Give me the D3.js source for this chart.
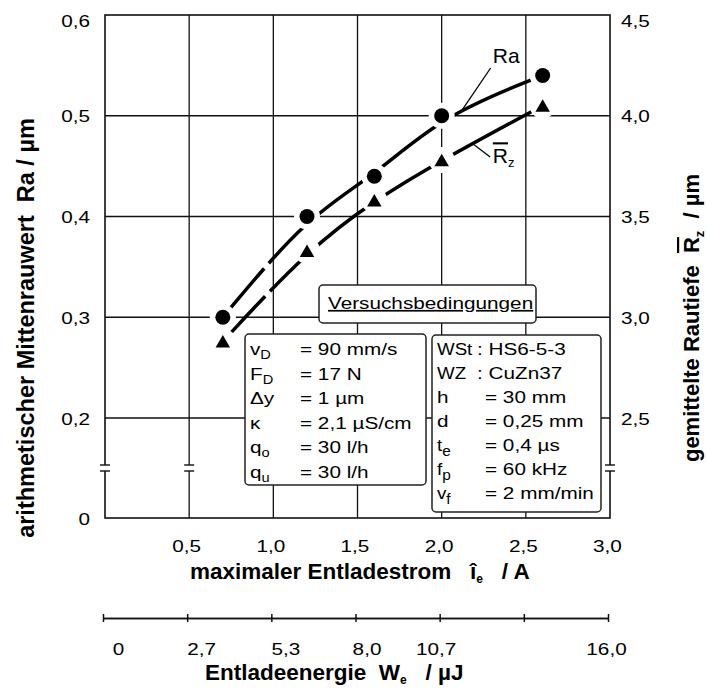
<!DOCTYPE html>
<html><head><meta charset="utf-8">
<script src="https://cdn.jsdelivr.net/npm/d3@7"></script>
<style>
body{margin:0;background:#fff}
svg text{font-family:"Liberation Sans",Arial,Helvetica,sans-serif;fill:#000}
</style></head><body>
<svg id="chart" width="707" height="689"></svg>
<script>
// ---------- data ----------
const current = [0.7, 1.2, 1.6, 2.0, 2.6];          // max. discharge current / A
const raValues = [0.30, 0.40, 0.44, 0.50, 0.54];    // Ra / µm
const rzValues = [2.88, 3.33, 3.58, 3.78, 4.05];    // Rz / µm
const xTicks = [0.5, 1.0, 1.5, 2.0, 2.5, 3.0];
const xTickLabels = ["0,5","1,0","1,5","2,0","2,5","3,0"];
const raTicks = [0, 0.2, 0.3, 0.4, 0.5, 0.6];
const raTickLabels = ["0","0,2","0,3","0,4","0,5","0,6"];
const rzTicks = [2.5, 3.0, 3.5, 4.0, 4.5];
const rzTickLabels = ["2,5","3,0","3,5","4,0","4,5"];
const energyTicks = [0, 16/6, 32/6, 8, 64/6, 80/6, 16];
const energyTickLabels = ["0","2,7","5,3","8,0","10,7","","16,0"];
const condLeftSym = [["v","D"],["F","D"],["\u0394y",""],["\u03ba",""],["q","o"],["q","u"]];
const condLeftVal = ["= 90 mm/s","= 17 N","= 1 \u00b5m","= 2,1 \u00b5S/cm","= 30 l/h","= 30 l/h"];
const condRightSym = [["WSt",""],["WZ",""],["h",""],["d",""],["t","e"],["f","p"],["v","f"]];
const condRightVal = [": HS6-5-3",": CuZn37","= 30 mm","= 0,25 mm","= 0,4 \u00b5s","= 60 kHz","= 2 mm/min"];

// ---------- layout ----------
const SX = 1.22; // horizontal stretch of the regular text
const svg = d3.select("#chart");
const x = d3.scaleLinear().domain([0, 3]).range([105, 610]);
const yRa = d3.scaleLinear().domain([0, 0.2, 0.6]).range([518, 418, 15]);
const yRz = d3.scaleLinear().domain([2.5, 4.5]).range([yRa(0.2), yRa(0.6)]);
const xE = d3.scaleLinear().domain([0, 16]).range([103, 608]);

function stext(parent, px, py, anchor, size, sx) {
  return parent.append("g").attr("transform", `translate(${px},${py}) scale(${sx || SX},1)`)
    .append("text").attr("text-anchor", anchor).attr("font-size", size || 17);
}

// grid
const grid = svg.append("g").attr("stroke", "#111").attr("stroke-width", 1.3);
grid.selectAll("line.v").data(xTicks.filter(d => d < 3)).join("line").attr("class","v")
  .attr("x1", d => x(d)).attr("x2", d => x(d)).attr("y1", yRa(0.6)).attr("y2", yRa(0));
grid.selectAll("line.h").data(raTicks.filter(d => d > 0 && d < 0.6)).join("line").attr("class","h")
  .attr("x1", x(0)).attr("x2", x(3)).attr("y1", d => yRa(d)).attr("y2", d => yRa(d));

// frame
svg.append("rect").attr("x", x(0)).attr("y", yRa(0.6)).attr("width", x(3) - x(0))
  .attr("height", yRa(0) - yRa(0.6)).attr("fill", "none").attr("stroke", "#111").attr("stroke-width", 1.6);

// axis breaks
const yb = yRa(0.1);
[x(0), x(0.5), x(3)].forEach(xb => {
  svg.append("rect").attr("x", xb - 3).attr("y", yb - 3).attr("width", 6).attr("height", 6).attr("fill", "#fff");
  [-3, 3].forEach(o => svg.append("line").attr("x1", xb - 5).attr("x2", xb + 5)
    .attr("y1", yb + o).attr("y2", yb + o).attr("stroke", "#111").attr("stroke-width", 1.4));
});

// left axis labels
const axL = svg.append("g").attr("transform", `translate(${x(0)},0)`)
  .call(d3.axisLeft(yRa).tickValues(raTicks).tickFormat((d, i) => raTickLabels[i]).tickSize(0).tickPadding(15));
axL.select(".domain").remove();
axL.selectAll("text").attr("font-size", 17).attr("font-family", null)
  .attr("transform", `scale(${SX},1)`).attr("x", -15 / SX)
  .attr("dy", d => d === 0.6 ? "0.70em" : "0.36em");

// right axis labels
const axR = svg.append("g").attr("transform", `translate(${x(3)},0)`)
  .call(d3.axisRight(yRz).tickValues(rzTicks).tickFormat((d, i) => rzTickLabels[i]).tickSize(0).tickPadding(11));
axR.select(".domain").remove();
axR.selectAll("text").attr("font-size", 17).attr("font-family", null)
  .attr("transform", `scale(${SX},1)`).attr("x", 11 / SX)
  .attr("dy", d => d === 4.5 ? "0.70em" : "0.36em");

// bottom axis labels
const axB = svg.append("g").attr("transform", `translate(0,${yRa(0)})`)
  .call(d3.axisBottom(x).tickValues(xTicks).tickFormat((d, i) => xTickLabels[i]).tickSize(0).tickPadding(22));
axB.select(".domain").remove();
axB.selectAll(".tick text").attr("font-size", 17).attr("font-family", null)
  .attr("transform", `scale(${SX},1)`).attr("dx", -3 / SX);

// energy axis
const yE = 618;
const axE1 = svg.append("g").attr("transform", `translate(0,${yE})`)
  .call(d3.axisTop(xE).tickValues(energyTicks).tickFormat("").tickSize(4).tickSizeOuter(0));
const energyDx = [15, 14, 14, 11, -4, 0, -2];
const axE2 = svg.append("g").attr("transform", `translate(0,${yE})`)
  .call(d3.axisBottom(xE).tickValues(energyTicks).tickFormat((d, i) => energyTickLabels[i]).tickSize(4).tickSizeOuter(0).tickPadding(21));
[axE1, axE2].forEach(a => { a.selectAll("path,line").attr("stroke", "#111").attr("stroke-width", 1.5); });
axE2.selectAll(".tick text").attr("font-size", 17).attr("font-family", null)
  .attr("transform", `scale(${SX},1)`).attr("dx", (d, i) => energyDx[i] / SX);

// axis titles
const tL = svg.append("text").attr("transform", "translate(34,328) rotate(-90)")
  .attr("text-anchor", "middle").attr("font-size", 23.5).attr("font-weight", "bold").style("white-space", "pre");
tL.text("arithmetischer Mittenrauwert  Ra / \u00b5m");

const tR = svg.append("text").attr("transform", "translate(699,318) rotate(-90)")
  .attr("text-anchor", "middle").attr("font-size", 22).attr("font-weight", "bold").style("white-space", "pre");
tR.append("tspan").text("gemittelte Rautiefe  ");
tR.append("tspan").text("R").style("text-decoration", "overline");
tR.append("tspan").text("z").attr("font-size", 13).attr("dy", 5);
tR.append("tspan").text("  / \u00b5m").attr("dy", -5);

const tB = svg.append("text").attr("x", 190).attr("y", 579)
  .attr("font-size", 22.5).attr("font-weight", "bold").style("white-space", "pre");
tB.append("tspan").text("maximaler Entladestrom   \u00ee");
tB.append("tspan").text("e").attr("font-size", 12).attr("dy", 4);
tB.append("tspan").text("   / A").attr("dy", -4);

const tE = svg.append("text").attr("x", 205).attr("y", 680)
  .attr("font-size", 22.5).attr("font-weight", "bold").style("white-space", "pre");
tE.append("tspan").text("Entladeenergie  W");
tE.append("tspan").text("e").attr("font-size", 12).attr("dy", 4);
tE.append("tspan").text("   / \u00b5J").attr("dy", -4);

// legend boxes
const box = (bx, by, bw, bh) => svg.append("rect").attr("x", bx).attr("y", by).attr("width", bw).attr("height", bh)
  .attr("rx", 4).attr("fill", "#fff").attr("stroke", "#222").attr("stroke-width", 1.5);
box(319, 285, 217, 38);
box(245, 334, 181, 151);
box(432, 335, 169, 177);
stext(svg, 328, 309, "start").text("Versuchsbedingungen").style("text-decoration", "underline");

condLeftSym.forEach((s, i) => {
  const by = 355 + 24.5 * i;
  const t = stext(svg, 250, by, "start");
  t.append("tspan").text(s[0]);
  if (s[1]) t.append("tspan").text(s[1]).attr("font-size", 12).attr("dy", 4);
  stext(svg, 300, by, "start").text(condLeftVal[i]);
});
condRightSym.forEach((s, i) => {
  const by = 355 + 24 * i;
  const t = stext(svg, 437, by, "start", 17, s[1] || s[0].length > 1 ? 1.1 : SX);
  t.append("tspan").text(s[0]);
  if (s[1]) t.append("tspan").text(s[1]).attr("font-size", 14).attr("dy", 5);
  stext(svg, condRightVal[i][0] === ":" ? 477 : 485, by, "start").text(condRightVal[i]);
});

// curves (smoothed fit through the measured points)
const raPts = current.map((c, i) => [c, raValues[i]]);
const rzPts = current.map((c, i) => [c, rzValues[i]]);
const lineRa = d3.line().x(d => x(d[0])).y(d => yRa(d[1])).curve(d3.curveBasis);
const lineRz = d3.line().x(d => x(d[0])).y(d => yRz(d[1])).curve(d3.curveBasis);
const pRa = svg.append("path").attr("d", lineRa(raPts)).attr("fill", "none").attr("stroke", "#000").attr("stroke-width", 3.5);
const pRz = svg.append("path").attr("d", lineRz(rzPts)).attr("fill", "none").attr("stroke", "#000").attr("stroke-width", 3.5);
pRa.attr("stroke-dasharray", `64,7,${pRa.node().getTotalLength()}`);
pRz.attr("stroke-dasharray", `62,7,${pRz.node().getTotalLength()}`);

// halos + markers
const halo = svg.append("g").attr("fill", "#fff");
halo.selectAll("circle.a").data(raPts).join("circle").attr("class","a")
  .attr("cx", d => x(d[0])).attr("cy", d => yRa(d[1])).attr("r", 13);
halo.selectAll("circle.b").data(rzPts).join("circle").attr("class","b")
  .attr("cx", d => x(d[0])).attr("cy", d => yRz(d[1])).attr("r", 13);
svg.append("g").selectAll("circle").data(raPts).join("circle")
  .attr("cx", d => x(d[0])).attr("cy", d => yRa(d[1])).attr("r", 7.5).attr("fill", "#000");
const tri = d3.symbol().type(d3.symbolTriangle).size(91);
svg.append("g").selectAll("path").data(rzPts).join("path").attr("d", tri)
  .attr("transform", d => `translate(${x(d[0])},${yRz(d[1]) + 2})`).attr("fill", "#000");

// curve labels with leaders
svg.append("line").attr("x1", x(2.291)).attr("y1", yRa(0.5474)).attr("x2", x(2.109)).attr("y2", yRa(0.5027))
  .attr("stroke", "#000").attr("stroke-width", 1.3);
svg.append("text").attr("x", x(2.304)).attr("y", yRa(0.5527)).attr("font-size", 21).text("Ra");
svg.append("line").attr("x1", x(2.179)).attr("y1", yRz(3.865)).attr("x2", x(2.288)).attr("y2", yRz(3.795))
  .attr("stroke", "#000").attr("stroke-width", 1.3);
const rzl = svg.append("text").attr("x", x(2.304)).attr("y", yRz(3.764)).attr("font-size", 21);
rzl.append("tspan").text("R").style("text-decoration", "overline");
rzl.append("tspan").text("z").attr("font-size", 13).attr("dy", 4);
</script>
</body></html>
